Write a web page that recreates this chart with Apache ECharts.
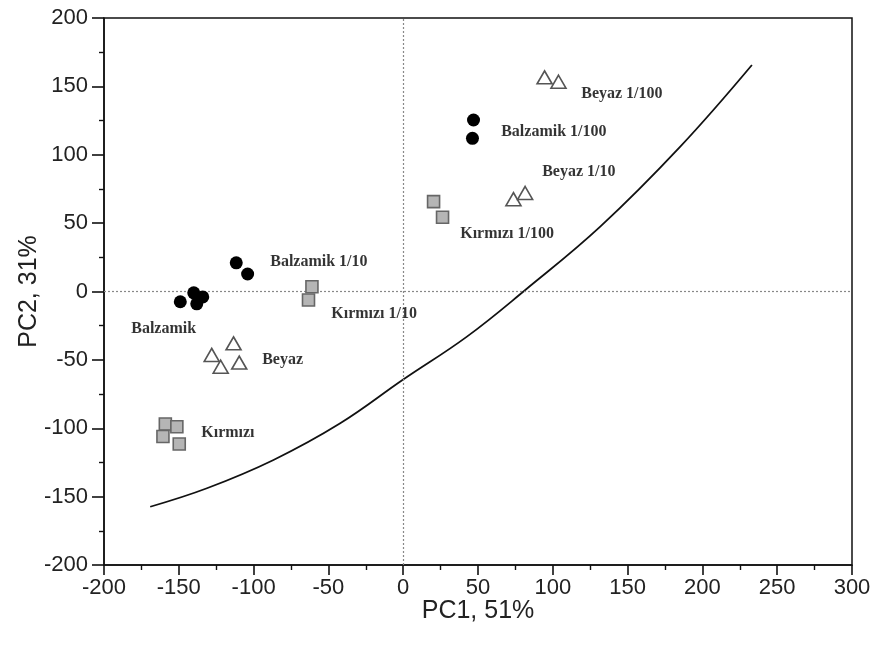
<!DOCTYPE html>
<html>
<head>
<meta charset="utf-8">
<script src="https://cdn.jsdelivr.net/npm/echarts@6/dist/echarts.min.js"></script>
<style>html,body{margin:0;padding:0;background:#fff}#c{width:880px;height:646px}</style>
</head>
<body>
<div id="c"></div>
<script>
// Balzamik groups (filled black circles)
const balzamikX = [-149, -140, -134, -138, -111.6, -104, 47, 46.3];
const balzamikY = [-7.5, -1, -4, -9, 21, 12.8, 125.4, 112];
// Beyaz groups (open triangles)
const beyazX = [-113.4, -128, -122, -109.6, 73.7, 81.5, 94.5, 103.8];
const beyazY = [-37.9, -46.4, -55, -52, 67.5, 72, 156.6, 153.4];
// Kırmızı groups (grey squares)
const kirmiziX = [-159, -151.3, -160.6, -149.7, -61, -63.3, 20.3, 26.3];
const kirmiziY = [-96.9, -98.9, -106, -111.5, 3.5, -6.2, 65.7, 54.3];
// Boundary curve
const curveX = [-169.1, -131.2, -86.7, -42.1, 0, 42.6, 81.6, 131.7, 185.2, 233.1];
const curveY = [-157.4, -143.9, -123.2, -96.4, -64.4, -33, 1.1, 47.4, 105.9, 165.6];
// Group annotations (anchor = left edge of text, data units)
const labelText = ['Balzamik 1/100', 'Beyaz 1/100', 'Beyaz 1/10', 'Kırmızı 1/100', 'Balzamik 1/10', 'Kırmızı 1/10', 'Balzamik', 'Beyaz', 'Kırmızı'];
const labelX = [65.5, 119, 92.9, 38.1, -88.9, -48.1, -181.8, -94.3, -135];
const labelY = [116.6, 144.4, 87.4, 42, 21.6, -16.5, -27.4, -50.1, -103.5];
// Axis ticks
const xTicks = [-200, -150, -100, -50, 0, 50, 100, 150, 200, 250, 300];
const yTicks = [-200, -150, -100, -50, 0, 50, 100, 150, 200];

const zip = (a, b) => a.map((v, i) => [v, b[i]]);

const chart = echarts.init(document.getElementById('c'));
const sans = 'Liberation Sans, Arial, sans-serif';
const axisFont = {fontFamily: sans, fontSize: 22, color: '#222'};
const nameFont = {fontFamily: sans, fontSize: 25, color: '#222'};
chart.setOption({
  animation: false,
  grid: {left: 104, right: 28, top: 18, bottom: 81, outerBoundsMode: 'none', containLabel: false,
         show: true, borderColor: '#111', borderWidth: 1.5, backgroundColor: '#fff'},
  xAxis: {
    type: 'value', min: xTicks[0], max: xTicks[xTicks.length - 1], interval: 50,
    name: 'PC1, 51%', nameLocation: 'middle', nameGap: 34, nameMoveOverlap: false, nameTextStyle: nameFont,
    axisLine: {show: true, onZero: false, lineStyle: {color: '#111', width: 1.5}},
    axisTick: {show: true, inside: false, length: 10, lineStyle: {color: '#111', width: 1.6}},
    minorTick: {show: true, splitNumber: 2, length: 5, lineStyle: {color: '#111', width: 1.4}},
    axisLabel: Object.assign({margin: 12}, axisFont),
    splitLine: {show: false}
  },
  yAxis: {
    type: 'value', min: yTicks[0], max: yTicks[yTicks.length - 1], interval: 50,
    name: 'PC2, 31%', nameLocation: 'middle', nameGap: 62, nameRotate: 90, nameMoveOverlap: false, nameTextStyle: nameFont,
    axisLine: {show: true, onZero: false, lineStyle: {color: '#111', width: 1.5}},
    axisTick: {show: true, inside: false, length: 12, lineStyle: {color: '#111', width: 1.6}},
    minorTick: {show: true, splitNumber: 2, length: 5, lineStyle: {color: '#111', width: 1.4}},
    axisLabel: Object.assign({margin: 16}, axisFont),
    splitLine: {show: false}
  },
  series: [
    {
      type: 'line', data: zip(curveX, curveY), smooth: 0.4, symbol: 'none',
      lineStyle: {color: '#111', width: 1.8}, z: 3,
      markLine: {
        silent: true, symbol: 'none', label: {show: false},
        lineStyle: {color: '#888', type: [2, 2], width: 1.2},
        data: [{xAxis: 0}, {yAxis: 0}]
      }
    },
    {
      type: 'scatter', data: zip(balzamikX, balzamikY), symbol: 'circle', symbolSize: 13,
      itemStyle: {color: '#000', opacity: 1}, z: 5
    },
    {
      type: 'scatter', data: zip(beyazX, beyazY), symbol: 'triangle', symbolSize: [15, 13],
      itemStyle: {color: '#fff', borderColor: '#555', borderWidth: 1.6, opacity: 1}, z: 5
    },
    {
      type: 'scatter', data: zip(kirmiziX, kirmiziY), symbol: 'rect', symbolSize: 12,
      itemStyle: {color: '#b5b5b5', borderColor: '#666', borderWidth: 1.6, opacity: 1}, z: 5
    },
    {
      type: 'scatter', silent: true, symbolSize: 0, z: 6,
      data: labelText.map((t, i) => ({value: [labelX[i], labelY[i]], name: t})),
      label: {
        show: true, position: 'right', distance: 0, formatter: p => p.name,
        fontFamily: 'Liberation Serif, Times New Roman, serif', fontWeight: 'bold', fontSize: 16, color: '#000'
      }
    }
  ]
});
</script>
</body>
</html>
